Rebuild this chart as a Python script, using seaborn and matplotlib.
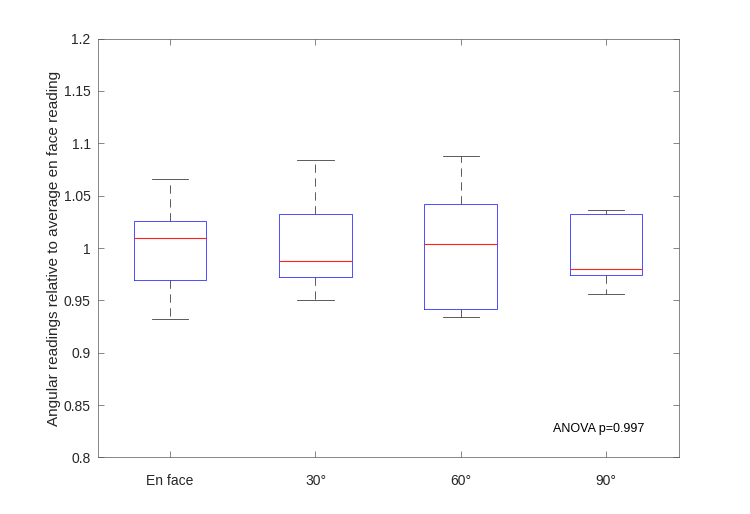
import numpy as np
import pandas as pd
import matplotlib
matplotlib.use("Agg")
import matplotlib.pyplot as plt
import seaborn as sns

# Five-number summaries (per angle)
categories = ["En face", "30°", "60°", "90°"]
whisker_low = [0.932, 0.950, 0.934, 0.956]
q1 = [0.969, 0.972, 0.942, 0.974]
median = [1.010, 0.988, 1.004, 0.980]
q3 = [1.026, 1.032, 1.042, 1.032]
whisker_high = [1.066, 1.084, 1.088, 1.036]

yticks = [0.8, 0.85, 0.9, 0.95, 1.0, 1.05, 1.1, 1.15, 1.2]
ytick_labels = ["0.8", "0.85", "0.9", "0.95", "1", "1.05", "1.1", "1.15", "1.2"]
ylabel = "Angular readings relative to average en face reading"
annotation = "ANOVA p=0.997"

rows = []
for i, c in enumerate(categories):
    for v in (whisker_low[i], q1[i], median[i], q3[i], whisker_high[i]):
        rows.append({"angle": c, "value": v})
df = pd.DataFrame(rows)

plt.rcParams["font.family"] = ["Liberation Sans", "DejaVu Sans"]
plt.rcParams["lines.scale_dashes"] = False

fig = plt.figure(figsize=(7.5, 5.14), dpi=100)
ax = fig.add_axes([0.13, 0.11, 0.775, 0.815])

lw = 0.6
sns.boxplot(
    data=df, x="angle", y="value", order=categories, ax=ax,
    fill=False, width=0.5, whis=np.inf, linewidth=lw,
    boxprops={"color": "#3030ff", "linewidth": lw},
    medianprops={"color": "#ff2020", "linewidth": 0.8},
    whiskerprops={"color": "#404040", "linewidth": lw, "linestyle": (0, (6, 4))},
    capprops={"color": "#404040", "linewidth": lw},
    showfliers=False,
)

ax.set_xlim(-0.5, 3.5)
ax.set_ylim(0.8, 1.2)
ax.set_yticks(yticks)
ax.set_yticklabels(ytick_labels)
ax.set_xlabel("")
ax.set_ylabel(ylabel, fontsize=11, color="#262626", labelpad=2)
ax.tick_params(direction="in", length=4, width=0.5, colors="#555555",
               labelsize=10, top=True, right=True, labelcolor="#262626")
ax.tick_params(axis="x", pad=12)
ax.tick_params(axis="y", pad=5)
for s in ax.spines.values():
    s.set_linewidth(0.5)
    s.set_color("#555555")
    s.set_visible(True)

ax.text(2.636, 0.827, annotation, ha="left", va="center", fontsize=9, color="#000000")

fig.savefig("out.png", dpi=100, facecolor="white")
